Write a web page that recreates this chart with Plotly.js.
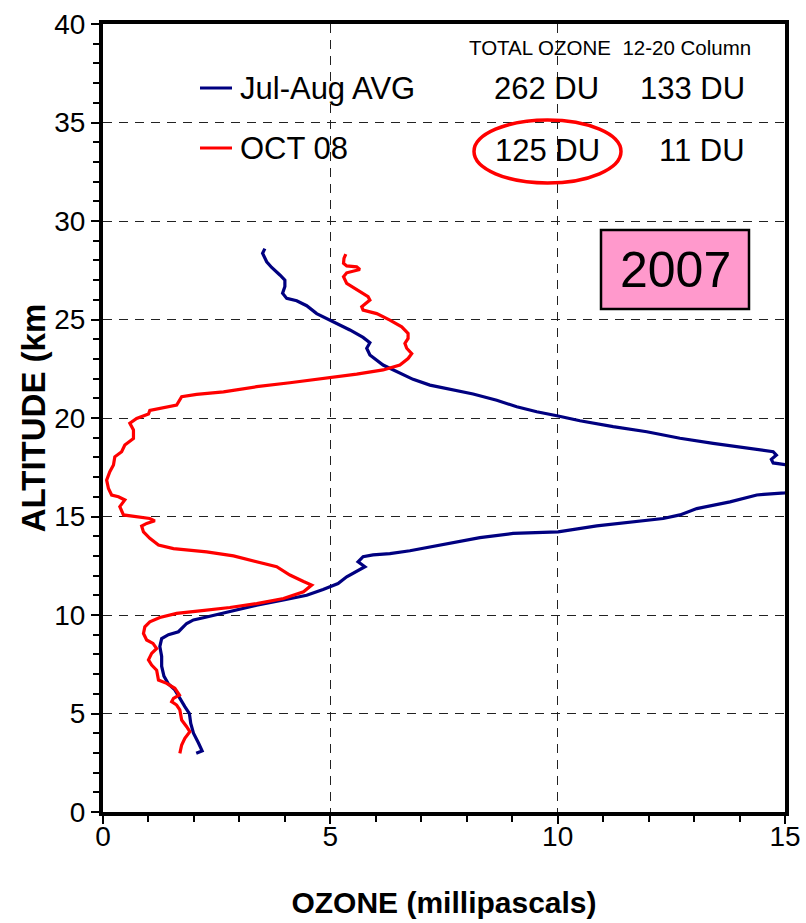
<!DOCTYPE html>
<html>
<head>
<meta charset="utf-8">
<script src="https://cdn.plot.ly/plotly-3.0.1.min.js"></script>
<style>html,body{margin:0;padding:0;background:#fff;}#chart{width:806px;height:923px;}</style>
</head>
<body>
<div id="chart"></div>
<script>
// Jul-Aug AVG profile (ozone partial pressure, mPa vs altitude, km)
const avgOzone = [2.05,2.18,2.1,1.99,1.93,1.90,1.80,1.68,1.58,1.44,1.34,1.29,1.29,1.25,1.29,1.44,1.66,1.84,1.99,2.28,2.79,3.38,3.97,4.48,4.84,5.17,5.36,5.65,5.76,5.61,5.72,5.94,6.31,6.75,7.45,8.29,9.02,10.01,10.86,11.59,12.32,12.69,13.06,13.79,14.38,14.53,15.0,15.5,15.7,15.4,15.0,14.74,14.7,14.81,14.74,14.15,13.42,12.69,11.96,11.22,10.49,10.01,9.54,9.1,8.66,8.14,7.56,7.19,6.82,6.46,6.16,5.87,5.8,5.87,5.72,5.43,4.99,4.7,4.48,4.26,4.04,3.95,4.0,4.0,3.89,3.71,3.6,3.51,3.56];
const avgAlt   = [2.98,3.1,3.5,4.0,4.5,5.0,5.35,5.85,6.2,6.5,6.9,7.4,7.9,8.4,8.8,9.0,9.15,9.57,9.75,9.9,10.17,10.5,10.76,11.0,11.3,11.6,11.94,12.28,12.45,12.7,12.96,13.05,13.12,13.26,13.55,13.93,14.14,14.22,14.52,14.69,14.9,15.08,15.4,15.74,16.09,16.12,16.2,16.5,17.0,17.5,17.64,17.72,17.9,18.12,18.29,18.46,18.71,18.97,19.3,19.56,19.86,20.1,20.32,20.57,20.9,21.22,21.5,21.67,21.96,22.34,22.69,23.2,23.54,23.82,24.09,24.47,24.95,25.3,25.7,25.95,26.07,26.33,26.67,27.0,27.26,27.64,27.93,28.36,28.6];

// OCT 08 profile
const octOzone = [1.69,1.73,1.8,1.91,1.84,1.73,1.69,1.62,1.51,1.55,1.68,1.58,1.4,1.22,1.18,1.07,1.0,1.07,1.18,1.1,0.96,0.89,0.92,1.03,1.25,1.62,2.13,2.79,3.38,3.97,4.41,4.59,4.41,4.11,3.82,3.38,2.87,2.28,1.55,1.22,1.03,0.89,0.85,0.96,1.14,1.03,0.74,0.45,0.37,0.48,0.34,0.19,0.12,0.08,0.15,0.23,0.26,0.41,0.48,0.67,0.67,0.59,0.74,1.0,1.03,1.29,1.62,1.73,2.06,2.65,3.38,4.11,4.99,5.58,6.16,6.53,6.71,6.79,6.68,6.64,6.71,6.71,6.57,6.31,6.02,5.72,5.69,5.87,5.83,5.58,5.36,5.29,5.36,5.65,5.58,5.36,5.29,5.3,5.34];
const octAlt   = [2.98,3.4,3.74,4.08,4.33,4.67,5.18,5.43,5.6,5.77,5.94,6.28,6.53,6.7,7.2,7.46,7.72,8.05,8.3,8.56,8.73,9.06,9.4,9.65,9.87,10.08,10.21,10.38,10.58,10.84,11.18,11.52,11.7,12.03,12.45,12.7,13.0,13.2,13.37,13.55,13.89,14.22,14.52,14.65,14.78,14.9,14.99,15.08,15.5,15.84,16.0,16.09,16.42,16.85,17.27,17.61,18.03,18.29,18.63,18.96,19.39,19.73,19.98,20.2,20.38,20.49,20.66,21.08,21.2,21.33,21.59,21.79,22.04,22.23,22.44,22.69,23.02,23.27,23.54,23.79,24.04,24.29,24.63,24.97,25.3,25.48,25.65,25.99,26.16,26.5,26.83,27.17,27.37,27.54,27.67,27.72,27.85,28.1,28.32];

const seriesNames = ["Jul-Aug AVG", "OCT 08"];
const totalOzone = ["262 DU", "125 DU"];
const column1220 = ["133 DU", "11 DU"];
const yearLabel = "2007";
const tableHeader = "TOTAL OZONE\u00a0\u00a012-20 Column";

const navy = "#000080", red = "#FF0000";
const FONT = "Liberation Sans, Arial, sans-serif";

const traces = [
  {x: avgOzone, y: avgAlt, mode: "lines", name: seriesNames[0], line: {color: navy, width: 3.2}},
  {x: octOzone, y: octAlt, mode: "lines", name: seriesNames[1], line: {color: red, width: 3.2}}
];

// pixel helpers for layout decorations (plot area: 103..785 x, 24..812 y)
const PX = p => (p - 103) / 682;
const PY = p => (812 - p) / 788;

const axisCommon = {
  showline: true, mirror: true, linecolor: "#000", linewidth: 4,
  ticks: "outside", ticklen: 8, tickwidth: 2, tickcolor: "#000",
  showgrid: true, gridcolor: "#222", gridwidth: 1, griddash: "9px,7px",
  zeroline: false,
  tickfont: {family: FONT, size: 28, color: "#000"},
  minor: {dtick: 1, ticks: "outside", ticklen: 6, tickwidth: 2, tickcolor: "#000", showgrid: false}
};

const layout = {
  width: 806, height: 923,
  margin: {l: 103, r: 21, t: 24, b: 111},
  paper_bgcolor: "#fff", plot_bgcolor: "#fff",
  showlegend: false,
  font: {family: FONT, color: "#000"},
  xaxis: Object.assign({}, axisCommon, {
    range: [0, 15], dtick: 5, tick0: 0,
    ticklabelstandoff: -12,
    title: {text: "OZONE (millipascals)", font: {family: FONT, size: 30, color: "#000", weight: "bold"}, standoff: 42}
  }),
  yaxis: Object.assign({}, axisCommon, {
    range: [0, 40], dtick: 5, tick0: 0,
    title: {text: "ALTITUDE (km", font: {family: FONT, size: 33, color: "#000", weight: "bold"}, standoff: 0}
  }),
  shapes: [
    {type: "rect", xref: "paper", yref: "paper", x0: PX(157), x1: PX(780), y0: PY(177), y1: PY(55), fillcolor: "#fff", line: {width: 0}, layer: "between"},
    {type: "rect", xref: "paper", yref: "paper", x0: PX(460), x1: PX(780), y0: PY(60), y1: PY(27), fillcolor: "#fff", line: {width: 0}, layer: "between"},
    {type: "line", xref: "paper", yref: "paper", x0: PX(200), x1: PX(232), y0: PY(88), y1: PY(88), line: {color: navy, width: 3}},
    {type: "line", xref: "paper", yref: "paper", x0: PX(200), x1: PX(232), y0: PY(148), y1: PY(148), line: {color: red, width: 3}},
    {type: "circle", xref: "paper", yref: "paper", x0: PX(474), x1: PX(621), y0: PY(183), y1: PY(120), line: {color: red, width: 3.5}},
    {type: "rect", xref: "paper", yref: "paper", x0: PX(601), x1: PX(749), y0: PY(309), y1: PY(230), fillcolor: "#FF99CC", line: {color: "#000", width: 2.5}, layer: "between"}
  ],
  annotations: [
    {text: tableHeader, xref: "paper", yref: "paper", x: PX(610), y: PY(48), xanchor: "center", yanchor: "middle", showarrow: false, font: {family: FONT, size: 20.5, color: "#000"}},
    {text: seriesNames[0], xref: "paper", yref: "paper", x: PX(238), y: PY(88), xanchor: "left", yanchor: "middle", showarrow: false, font: {family: FONT, size: 31, color: "#000"}},
    {text: seriesNames[1], xref: "paper", yref: "paper", x: PX(238), y: PY(148), xanchor: "left", yanchor: "middle", showarrow: false, font: {family: FONT, size: 31, color: "#000"}},
    {text: totalOzone[0], xref: "paper", yref: "paper", x: PX(546), y: PY(88), xanchor: "center", yanchor: "middle", showarrow: false, font: {family: FONT, size: 31, color: "#000"}},
    {text: totalOzone[1], xref: "paper", yref: "paper", x: PX(547), y: PY(150), xanchor: "center", yanchor: "middle", showarrow: false, font: {family: FONT, size: 31, color: "#000"}},
    {text: column1220[0], xref: "paper", yref: "paper", x: PX(747), y: PY(88), xanchor: "right", yanchor: "middle", showarrow: false, font: {family: FONT, size: 31, color: "#000"}},
    {text: column1220[1], xref: "paper", yref: "paper", x: PX(747), y: PY(150), xanchor: "right", yanchor: "middle", showarrow: false, font: {family: FONT, size: 31, color: "#000"}},
    {text: yearLabel, xref: "paper", yref: "paper", x: PX(675), y: PY(270), xanchor: "center", yanchor: "middle", showarrow: false, font: {family: FONT, size: 50, color: "#000"}}
  ]
};

Plotly.newPlot("chart", traces, layout, {staticPlot: true, displayModeBar: false});
</script>
</body>
</html>
